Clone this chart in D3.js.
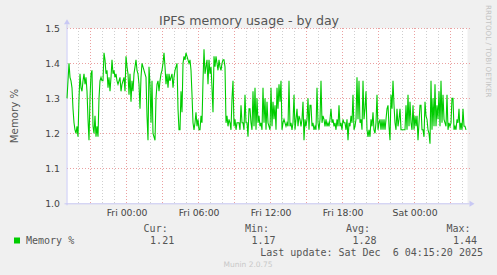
<!DOCTYPE html>
<html>
<head>
<meta charset="utf-8">
<script src="https://cdn.jsdelivr.net/npm/d3@7"></script>
<style>
  body { margin: 0; background: #f0f0f0; }
  svg { display: block; }
</style>
</head>
<body>
<div class="chart"></div>
<script>
// values, one sample per 5 minutes
var memValues = [
  1.30,1.35,1.40,1.36,1.35,1.33,1.27,1.23,1.21,1.20,1.22,1.19,1.30,1.37,1.33,1.32,1.35,1.37,1.34,1.36,
  1.32,1.24,1.18,1.30,1.37,1.38,1.22,1.20,1.25,1.19,1.22,1.19,1.30,1.35,1.36,1.35,1.35,1.43,1.41,1.37,
  1.38,1.33,1.36,1.32,1.36,1.41,1.37,1.38,1.36,1.37,1.35,1.34,1.35,1.36,1.32,
  1.34,1.35,1.36,1.32,1.42,1.39,1.37,1.31,1.37,1.29,1.35,1.32,1.37,1.39,1.41,1.38,1.37,1.34,1.27,1.36,
  1.40,1.39,1.38,1.37,1.36,1.25,1.18,1.39,1.34,1.23,1.35,1.20,1.19,1.18,1.30,1.34,1.35,1.32,1.35,1.37,
  1.38,1.40,1.43,1.39,1.34,1.37,1.33,1.37,1.35,1.36,1.37,1.33,1.36,1.38,1.39,1.40,1.27,1.21,
  1.21,1.32,1.26,1.40,1.42,1.41,1.43,1.42,1.41,1.40,1.41,1.38,1.31,1.23,1.21,1.23,1.26,1.22,1.24,1.21,
  1.21,1.25,1.23,1.35,1.44,1.37,1.39,1.41,1.34,1.41,1.37,1.39,1.33,1.26,1.42,1.39,1.42,1.40,1.38,1.41,
  1.39,1.38,1.40,1.41,1.41,1.39,1.23,1.25,1.22,1.24,1.23,1.21,1.30,1.35,1.22,1.24,1.21,1.23,
  1.23,1.23,1.21,1.28,1.23,1.23,1.21,1.31,1.23,1.23,1.19,1.27,1.27,1.23,1.21,1.32,1.22,1.33,1.21,1.30,
  1.23,1.25,1.22,1.23,1.21,1.33,1.23,1.30,1.21,1.29,1.23,1.22,1.21,1.33,1.22,1.29,1.24,1.28,1.21,1.33,
  1.27,1.34,1.29,1.35,1.21,1.23,1.24,1.23,1.22,1.23,1.22,1.35,1.22,1.23,1.21,1.23,1.31,1.21,1.24,1.27,
  1.22,1.25,1.24,1.22,1.24,1.29,1.18,1.24,1.22,1.24,1.30,1.21,1.28,1.28,1.22,1.23,1.21,1.22,1.21,1.33,
  1.23,1.21,1.24,1.35,1.23,1.25,1.24,1.22,1.24,1.22,1.23,1.22,1.24,1.27,1.23,1.24,1.22,1.23,1.21,1.24,
  1.22,1.28,1.22,1.23,1.21,1.24,1.23,1.23,1.21,1.24,1.18,1.23,1.22,1.25,1.23,1.31,1.21,1.22,
  1.24,1.36,1.24,1.35,1.23,1.24,1.21,1.35,1.24,1.27,1.32,1.21,1.19,1.21,1.19,1.24,1.22,1.26,1.21,1.20,
  1.23,1.31,1.21,1.23,1.24,1.21,1.24,1.21,1.24,1.21,1.24,1.27,1.28,1.22,1.18,1.31,1.27,1.35,1.28,1.23,
  1.21,1.27,1.22,1.24,1.27,1.21,1.21,1.21,1.21,1.21,1.28,1.21,1.31,1.22,1.29,1.23,
  1.21,1.28,1.21,1.25,1.22,1.25,1.18,1.23,1.28,1.28,1.21,1.21,1.19,1.29,1.25,1.24,1.21,1.20,1.17,1.35,
  1.21,1.30,1.22,1.34,1.22,1.28,1.24,1.32,1.22,1.35,1.23,1.31,1.24,1.23,1.22,1.31,1.21,1.23,1.22,1.23,
  1.30,1.30,1.21,1.22,1.21,1.24,1.23,1.27,1.21,1.23,1.21,1.27,1.22,1.22,1.21
];
var firstSample = new Date(Date.UTC(2025, 11, 4, 19, 3, 30));
var stepMs = 5 * 60 * 1000;
var yTicks = [1.0, 1.1, 1.2, 1.3, 1.4, 1.5];
var legendHeads = ["Cur:", "Min:", "Avg:", "Max:"];
var legendVals = ["1.21", "1.17", "1.28", "1.44"];
var seriesName = "Memory %";
var lastUpdate = "Last update: Sat Dec  6 04:15:20 2025";

var svgWidth = 497;
var svgHeight = 275;
var plot = { left: 66.5, right: 467.5, top: 28.3, bottom: 203.3 };

var data = memValues.map(function(v, i) {
  return { t: new Date(firstSample.getTime() + i * stepMs), v: v };
});

var xScale = d3.scaleUtc()
  .domain([new Date(Date.UTC(2025, 11, 4, 19, 1)), new Date(Date.UTC(2025, 11, 6, 4, 26))])
  .range([plot.left, plot.right]);
var yScale = d3.scaleLinear().domain([1.0, 1.5]).range([plot.bottom, plot.top]);

var svg = d3.select(".chart").append("svg")
  .attr("width", svgWidth)
  .attr("height", svgHeight);

svg.append("rect").attr("width", svgWidth).attr("height", svgHeight).attr("fill", "#f0f0f0");
svg.append("rect")
  .attr("x", plot.left).attr("y", plot.top)
  .attr("width", plot.right - plot.left).attr("height", plot.bottom - plot.top)
  .attr("fill", "#ffffff");

// vertical grid, every hour, red every 3 hours
var hours = d3.utcHour.every(1).range(xScale.domain()[0], xScale.domain()[1]);
svg.append("g").attr("shape-rendering", "crispEdges").selectAll("line")
  .data(hours.filter(function(h) { return xScale(h) > plot.left + 1; }))
  .join("line")
  .attr("x1", function(d) { return Math.round(xScale(d)) + 0.5; })
  .attr("x2", function(d) { return Math.round(xScale(d)) + 0.5; })
  .attr("y1", plot.top).attr("y2", plot.bottom)
  .attr("stroke", function(d) { return d.getUTCHours() % 3 == 0 ? "#eba0a0" : "#cfcfcf"; })
  .attr("stroke-dasharray", "1,2");

// horizontal grid
svg.append("g").attr("shape-rendering", "crispEdges").selectAll("line")
  .data(yTicks.slice(1))
  .join("line")
  .attr("x1", plot.left).attr("x2", plot.right + 2)
  .attr("y1", function(d) { return Math.round(yScale(d)) + 0.5; })
  .attr("y2", function(d) { return Math.round(yScale(d)) + 0.5; })
  .attr("stroke", "#eba0a0")
  .attr("stroke-dasharray", "1,2");

// y tick labels
svg.append("g").selectAll("text")
  .data(yTicks)
  .join("text")
  .attr("x", 60).attr("y", function(d) { return yScale(d) + 3.5; })
  .attr("text-anchor", "end")
  .attr("font-family", "DejaVu Sans").attr("font-size", 9.3)
  .attr("fill", "#444")
  .text(function(d) { return d.toFixed(1); });

// x tick labels every 6 hours
svg.append("g").selectAll("text")
  .data(hours.filter(function(h) { return h.getUTCHours() % 6 == 0; }))
  .join("text")
  .attr("x", function(d) { return xScale(d) + 0.8; })
  .attr("y", 216)
  .attr("text-anchor", "middle")
  .attr("font-family", "DejaVu Sans").attr("font-size", 9.3)
  .attr("fill", "#444")
  .text(d3.utcFormat("%a %H:%M"));

// axes with arrows
var axisColor = "#c8c8f4";
svg.append("line").attr("x1", plot.left - 2).attr("x2", plot.right + 2)
  .attr("y1", plot.bottom + 0.5).attr("y2", plot.bottom + 0.5).attr("stroke", axisColor);
svg.append("line").attr("x1", plot.left + 0.5).attr("x2", plot.left + 0.5)
  .attr("y1", plot.bottom + 2).attr("y2", plot.top - 4).attr("stroke", axisColor);
svg.append("path").attr("d", "M" + (plot.right + 2) + "," + (plot.bottom - 2.5) + "l5,3l-5,3z").attr("fill", axisColor);
svg.append("path").attr("d", "M" + (plot.left - 2.5) + "," + (plot.top - 4) + "l3,-5l3,5z").attr("fill", axisColor);

// the series
var line = d3.line()
  .x(function(d) { return xScale(d.t); })
  .y(function(d) { return yScale(d.v); });
svg.append("path")
  .datum(data)
  .attr("d", line)
  .attr("fill", "none")
  .attr("stroke", "#00cc00")
  .attr("stroke-width", 1.1);

// title and labels
svg.append("text").attr("x", 249).attr("y", 24.5).attr("text-anchor", "middle")
  .attr("font-family", "DejaVu Sans").attr("font-size", 12.6).attr("fill", "#555")
  .text("IPFS memory usage - by day");
svg.append("text").attr("transform", "translate(18,116) rotate(-90)").attr("text-anchor", "middle")
  .attr("font-family", "DejaVu Sans").attr("font-size", 10.2).attr("fill", "#555")
  .text("Memory %");
svg.append("text").attr("transform", "translate(486,5) rotate(90)").attr("text-anchor", "start")
  .attr("font-family", "DejaVu Sans").attr("font-size", 7.2).attr("fill", "#c4c4c4")
  .text("RRDTOOL / TOBI OETIKER");

// legend
var mono = "DejaVu Sans Mono";
svg.append("rect").attr("x", 14).attr("y", 237.5).attr("width", 6).attr("height", 6).attr("fill", "#00cc00");
svg.append("text").attr("x", 26).attr("y", 243.5).attr("font-family", mono).attr("font-size", 10)
  .attr("fill", "#555").text(seriesName);
var colRight = [167.7, 269, 370, 470.5];
svg.append("g").selectAll("text").data(legendHeads).join("text")
  .attr("x", function(d, i) { return colRight[i]; }).attr("y", 231.5)
  .attr("text-anchor", "end").attr("font-family", mono).attr("font-size", 10).attr("fill", "#555")
  .text(function(d) { return d; });
svg.append("g").selectAll("text").data(legendVals).join("text")
  .attr("x", function(d, i) { return colRight[i] + 6.5; }).attr("y", 243.5)
  .attr("text-anchor", "end").attr("font-family", mono).attr("font-size", 10).attr("fill", "#555")
  .text(function(d) { return d; });
svg.append("text").attr("x", 483).attr("y", 255.5).attr("text-anchor", "end")
  .attr("font-family", mono).attr("font-size", 10).attr("fill", "#555")
  .attr("xml:space", "preserve").style("white-space", "pre")
  .text(lastUpdate);
svg.append("text").attr("x", 248).attr("y", 267).attr("text-anchor", "middle")
  .attr("font-family", "DejaVu Sans").attr("font-size", 7.5).attr("fill", "#c8c8c8")
  .text("Munin 2.0.75");
</script>
</body>
</html>
